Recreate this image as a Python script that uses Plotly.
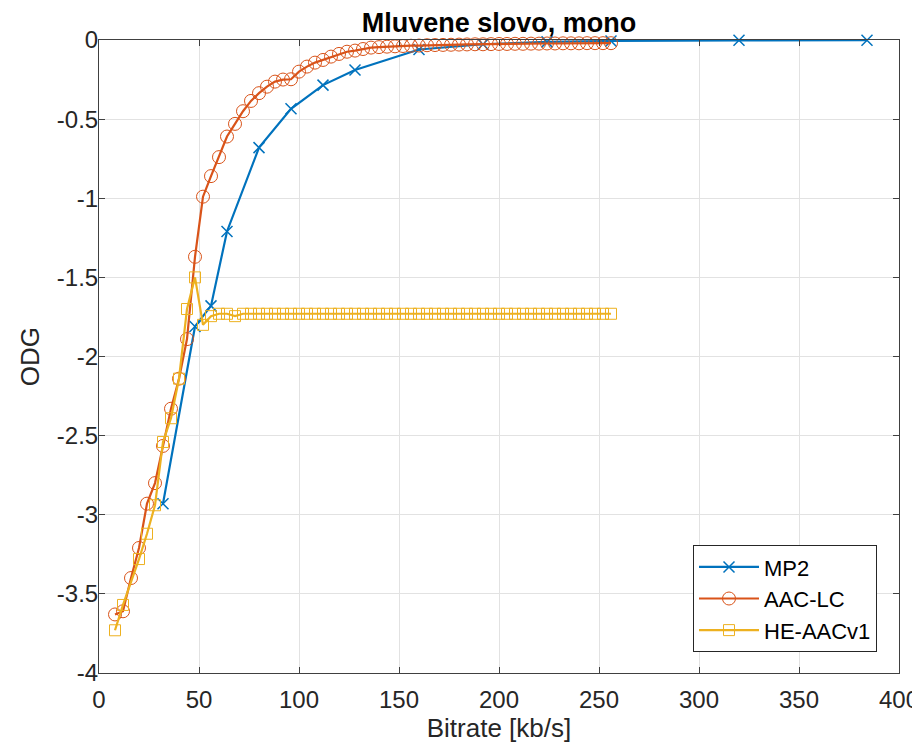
import plotly.graph_objects as go

# ---------------- data ----------------
mp2_bitrate = [32, 48, 56, 64, 80, 96, 112, 128, 160, 192, 224, 256, 320, 384]
mp2_odg = [-2.93, -1.81, -1.68, -1.21, -0.68, -0.435, -0.285, -0.19, -0.06, -0.027, -0.012, -0.006, -0.002, -0.001]

aac_bitrate = [8, 12, 16, 20, 24, 28, 32, 36, 40, 44, 48, 52, 56, 60, 64, 68, 72, 76, 80, 84,
               88, 92, 96, 100, 104, 108, 112, 116, 120, 124, 128, 132, 136, 140, 144, 148, 152,
               156, 160, 164, 168, 172, 176, 180, 184, 188, 192, 196, 200, 204, 208, 212, 216,
               220, 224, 228, 232, 236, 240, 244, 248, 252, 256]
aac_odg = [-3.63, -3.61, -3.40, -3.21, -2.93, -2.80, -2.565, -2.33, -2.14, -1.89, -1.37, -0.99,
           -0.86, -0.74, -0.61, -0.53, -0.45, -0.385, -0.336, -0.295, -0.263, -0.25, -0.248,
           -0.20, -0.168, -0.143, -0.126, -0.105, -0.088, -0.074, -0.067, -0.057, -0.048,
           -0.045, -0.042, -0.040, -0.038, -0.036, -0.035, -0.033, -0.032, -0.031, -0.030,
           -0.029, -0.028, -0.027, -0.027, -0.026, -0.025, -0.025, -0.024, -0.024, -0.023,
           -0.023, -0.022, -0.022, -0.021, -0.021, -0.021, -0.020, -0.020, -0.020, -0.020]

he_bitrate = [8, 12, 20, 24, 28, 32, 36, 40, 44, 48, 52, 56, 60, 64, 68, 72, 76, 80, 84, 88,
              92, 96, 100, 104, 108, 112, 116, 120, 124, 128, 132, 136, 140, 144, 148, 152,
              156, 160, 164, 168, 172, 176, 180, 184, 188, 192, 196, 200, 204, 208, 212, 216,
              220, 224, 228, 232, 236, 240, 244, 248, 252, 256]
he_odg = [-3.73, -3.57, -3.28, -3.12, -2.94, -2.54, -2.39, -2.14, -1.70, -1.50, -1.80, -1.745,
          -1.73, -1.73, -1.745, -1.73, -1.73, -1.73, -1.73, -1.73, -1.73, -1.73, -1.73, -1.73,
          -1.73, -1.73, -1.73, -1.73, -1.73, -1.73, -1.73, -1.73, -1.73, -1.73, -1.73, -1.73,
          -1.73, -1.73, -1.73, -1.73, -1.73, -1.73, -1.73, -1.73, -1.73, -1.73, -1.73, -1.73,
          -1.73, -1.73, -1.73, -1.73, -1.73, -1.73, -1.73, -1.73, -1.73, -1.73, -1.73, -1.73,
          -1.73, -1.73]

x_ticks = [0, 50, 100, 150, 200, 250, 300, 350, 400]
x_ticktext = ["0", "50", "100", "150", "200", "250", "300", "350", "400"]
y_ticks = [0, -0.5, -1, -1.5, -2, -2.5, -3, -3.5, -4]
y_ticktext = ["0", "-0.5", "-1", "-1.5", "-2", "-2.5", "-3", "-3.5", "-4"]

# ---------------- figure ----------------
# the page body has an 8 px default margin, so the figure is 8 px smaller
FONT = "Liberation Sans, Arial, Helvetica, sans-serif"
FIG_W, FIG_H = 912, 739
fig = go.Figure()

fig.add_trace(go.Scatter(
    x=mp2_bitrate, y=mp2_odg, name="MP2", mode="lines+markers",
    line=dict(color="#0072BD", width=2.2),
    marker=dict(symbol="x-thin-open", size=11,
                line=dict(color="rgba(0,114,189,0.45)", width=1.5)),
    cliponaxis=False))

fig.add_trace(go.Scatter(
    x=aac_bitrate, y=aac_odg, name="AAC-LC", mode="lines+markers",
    line=dict(color="#D95319", width=2.2),
    marker=dict(symbol="circle-open", size=13,
                line=dict(color="rgba(217,83,25,0.42)", width=1)),
    cliponaxis=False))

fig.add_trace(go.Scatter(
    x=he_bitrate, y=he_odg, name="HE-AACv1", mode="lines+markers",
    line=dict(color="#EDB120", width=2.2),
    marker=dict(symbol="square-open", size=11,
                line=dict(color="rgba(237,177,32,0.42)", width=1)),
    cliponaxis=False))

axis_common = dict(
    showline=True, linecolor="#404040", linewidth=1, mirror="ticks",
    ticks="inside", ticklen=6, tickcolor="#404040", tickwidth=1,
    showgrid=True, gridcolor="#e2e2e2", gridwidth=1, zeroline=False,
    automargin=False,
    tickfont=dict(family=FONT, size=24, color="#262626"),
)

fig.update_layout(
    width=FIG_W, height=FIG_H,
    paper_bgcolor="white", plot_bgcolor="white",
    margin=dict(l=91, r=21, t=32, b=74),
    font=dict(family=FONT, color="#262626"),
    title=dict(text="<b>Mluvene slovo, mono</b>", x=491 / FIG_W, xanchor="center",
               y=1 - 15 / FIG_H, yanchor="middle", yref="container",
               font=dict(family=FONT, size=27, color="black")),
    xaxis=dict(range=[0, 400], tickvals=x_ticks, ticktext=x_ticktext,
               ticklabelstandoff=5,
               title=dict(text="Bitrate [kb/s]", font=dict(family=FONT, size=26, color="#262626"),
                          standoff=7),
               **axis_common),
    yaxis=dict(range=[-4, 0], tickvals=y_ticks, ticktext=y_ticktext,
               ticklabelstandoff=-5,
               title=dict(text="ODG", font=dict(family=FONT, size=26, color="#262626"),
                          standoff=9),
               **axis_common),
    legend=dict(x=0.9725, y=0.033, xanchor="right", yanchor="bottom",
                bgcolor="white", bordercolor="#262626", borderwidth=1,
                font=dict(family=FONT, size=22, color="black"),
                itemwidth=60, tracegroupgap=0),
    showlegend=True,
)

fig.write_html("out.html")
